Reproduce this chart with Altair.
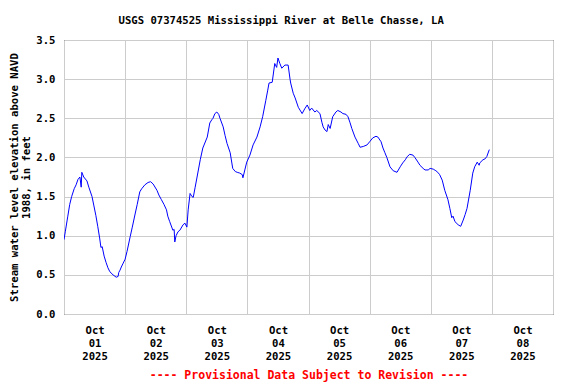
import altair as alt
import pandas as pd

# hours since 2025-10-01 00:00 and water level (ft above NAVD 1988)
hours = [0, 0.5, 1.25, 1.5, 2.25, 3, 4, 4.75, 5.5, 6.25, 6.75, 7, 7.75, 9, 9.75, 11, 11.75, 12.5,
         13.25, 14, 14.5, 15, 15.75, 16.5, 17.25, 18, 19.25, 20.5, 21.25, 21.5, 22, 22.5, 23.25,
         24, 24.75, 26, 26.75, 28, 28.75, 29.75, 30.5, 31.75, 33, 34, 35, 36.5, 37.25, 38.25,
         39.25, 40.25, 40.75, 41.5, 42.75, 43.25, 43.5, 44, 44.75, 45.5, 46.75, 47.5, 48.25,
         48.75, 49.5, 50.25, 50.75, 51.5, 52.25, 53.5, 54.5, 56.25, 57.25, 58, 58.5, 59.25, 60,
         60.75, 61.25, 62.5, 63.25, 64, 65.25, 66.25, 67.25, 68, 69, 70, 70.25, 71, 71.75, 73,
         74.25, 75.75, 77, 78, 79.25, 80, 80.5, 81.75, 82.75, 83.5, 84, 84.75, 85.5, 86.75, 88,
         88.75, 89, 90, 90.75, 92, 93.5, 94.5, 95.5, 96.5, 97.25, 98.5, 99.25, 100.5, 101.25,
         101.75, 102.5, 103.25, 103.75, 104.5, 105.5, 106.75, 107.5, 108.75, 109.5, 110.75,
         111.5, 112.25, 113, 114.25, 115.5, 116.25, 117.5, 119, 120, 121.25, 122.5, 123.25,
         124.5, 125.25, 126, 126.75, 128, 129.25, 130.75, 132, 133, 134, 134.75, 135.75, 137,
         137.75, 139, 139.75, 141, 141.75, 143, 143.75, 145, 146, 146.75, 147.5, 148.5, 149.5,
         150.75, 151.5, 152.25, 152.75, 153.5, 154.75, 155.75, 156.75, 157.5, 158.25, 159.5,
         160.5, 161.25, 162.25, 163, 163.25, 164.5, 165.25, 166, 167]
stage = [0.95, 1.05, 1.2, 1.25, 1.4, 1.5, 1.6, 1.65, 1.72, 1.75, 1.62, 1.81, 1.75, 1.70, 1.62,
         1.5, 1.38, 1.26, 1.12, 0.97, 0.85, 0.86, 0.74, 0.66, 0.59, 0.54, 0.5, 0.47, 0.48, 0.53,
         0.56, 0.6, 0.65, 0.7, 0.8, 0.99, 1.1, 1.29, 1.40, 1.56, 1.6, 1.65, 1.68, 1.69, 1.66,
         1.58, 1.52, 1.46, 1.40, 1.33, 1.25, 1.18, 1.07, 1.08, 0.92, 1.0, 1.05, 1.07, 1.14, 1.16,
         1.11, 1.33, 1.54, 1.50, 1.49, 1.62, 1.75, 1.97, 2.12, 2.26, 2.44, 2.48, 2.5, 2.56, 2.58,
         2.55, 2.5, 2.39, 2.28, 2.18, 2.06, 1.86, 1.82, 1.81, 1.8, 1.78, 1.74, 1.84, 1.94, 2.03,
         2.16, 2.26, 2.39, 2.52, 2.73, 2.86, 2.95, 2.96, 3.2, 3.15, 3.27, 3.2, 3.14, 3.18, 3.18,
         3.0, 2.95, 2.82, 2.76, 2.64, 2.56, 2.62, 2.67, 2.6, 2.63, 2.58, 2.6, 2.56, 2.45, 2.39,
         2.35, 2.33, 2.42, 2.37, 2.52, 2.58, 2.6, 2.58, 2.56, 2.55, 2.52, 2.45, 2.37, 2.26, 2.18,
         2.13, 2.14, 2.16, 2.2, 2.25, 2.27, 2.26, 2.2, 2.12, 2.06, 2.0, 1.88, 1.83, 1.81, 1.88,
         1.93, 1.97, 2.01, 2.04, 2.03, 2.0, 1.94, 1.90, 1.86, 1.84, 1.84, 1.86, 1.85, 1.83, 1.81,
         1.78, 1.71, 1.58, 1.46, 1.35, 1.23, 1.25, 1.18, 1.14, 1.12, 1.2, 1.27, 1.35, 1.58, 1.8,
         1.88, 1.94, 1.9, 1.93, 1.97, 1.98, 2.01, 2.1]

day_labels = [["Oct", "01", "2025"], ["Oct", "02", "2025"], ["Oct", "03", "2025"],
              ["Oct", "04", "2025"], ["Oct", "05", "2025"], ["Oct", "06", "2025"],
              ["Oct", "07", "2025"], ["Oct", "08", "2025"]]
y_ticks = [0.0, 0.5, 1.0, 1.5, 2.0, 2.5, 3.0, 3.5]

df = pd.DataFrame({"hours": hours, "stage": stage})

FONT = "DejaVu Sans Mono"
label_array = "[" + ",".join(
    "[" + ",".join("'" + s + "'" for s in d) + "]" for d in day_labels) + "]"
x_vals = sorted([24 * i for i in range(9)] + [24 * i + 12 for i in range(8)])

chart = alt.Chart(df).mark_line(color="#0000ff", strokeWidth=1, clip=True).encode(
    x=alt.X("hours:Q",
            scale=alt.Scale(domain=[0, 192], nice=False, zero=False),
            axis=alt.Axis(
                values=x_vals,
                title="---- Provisional Data Subject to Revision ----",
                titleColor="#ff0000", titleFont=FONT, titleFontSize=11.5,
                titleFontWeight="bold", titlePadding=8,
                labelExpr=f"datum.value % 24 == 12 ? {label_array}[floor(datum.value/24)] : ''",
                labelFont=FONT, labelFontSize=10.6, labelFontWeight="bold",
                labelColor="black", labelLineHeight=13, labelPadding=11,
                labelFlush=False, labelOverlap=False,
                ticks=False, domain=False,
                gridColor="#cccccc", gridWidth=1,
                gridOpacity={"condition": {"test": "datum.value % 24 == 0", "value": 1}, "value": 0},
            )),
    y=alt.Y("stage:Q",
            scale=alt.Scale(domain=[0, 3.5], nice=False),
            axis=alt.Axis(
                values=y_ticks, format=".1f",
                title=["Stream water level elevation above NAVD", "1988, in feet"],
                titleFont=FONT, titleFontSize=10.6, titleFontWeight="bold",
                titleColor="black", titlePadding=4, titleLineHeight=12.5,
                labelFont=FONT, labelFontSize=10.6, labelFontWeight="bold",
                labelColor="black", labelPadding=9,
                ticks=False, domain=False,
                gridColor="#cccccc", gridWidth=1,
            )),
).properties(
    width=489, height=274,
    title=alt.TitleParams(
        "USGS 07374525 Mississippi River at Belle Chasse, LA",
        font=FONT, fontSize=10.6, fontWeight="bold", color="black",
        anchor="middle", frame="bounds", offset=8),
    autosize=alt.AutoSizeParams(type="none"),
    padding={"left": 56, "top": 32, "right": 15, "bottom": 70},
).configure_view(stroke="black", strokeWidth=1)

chart.save("out.html", embed_options={"renderer": "svg", "actions": False})
